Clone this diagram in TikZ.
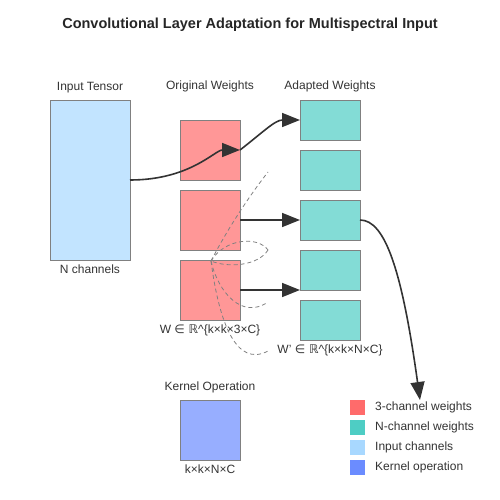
\documentclass[tikz,border=0pt]{standalone}
\usepackage{fontspec}
\setmainfont{Liberation Sans}
\newfontfamily\dvs{DejaVu Sans}
\usetikzlibrary{positioning, arrows.meta}
\definecolor{wthree}{HTML}{FF6B6B}
\definecolor{wn}{HTML}{4ECDC4}
\definecolor{inch}{HTML}{A8D8FF}
\definecolor{kop}{HTML}{6B8CFF}
\tikzstyle{box} = [rectangle, draw=gray, line width=0.8pt, inner sep=0pt, outer sep=0pt, fill opacity=0.7, draw opacity=1]
\tikzstyle{orig} = [box, fill=wthree, minimum width=60pt, minimum height=60pt]
\tikzstyle{adapt} = [box, fill=wn, minimum width=60pt, minimum height=40pt]
\tikzstyle{leg} = [rectangle, inner sep=0pt, outer sep=0pt, minimum size=15pt]
\tikzstyle{lbl} = [font=\fontsize{12}{14}\selectfont, text=black!80, inner sep=2pt]
\tikzstyle{arr} = [-{Triangle[length=18pt, width=14pt]}, line width=1.6pt, draw=black!80]
\tikzstyle{rep} = [draw=gray, line width=0.8pt, dash pattern=on 4pt off 3pt]

\begin{document}
\begin{tikzpicture}[x=1pt, y=-1pt]
    \useasboundingbox (0,0) rectangle (500,500);

    \node[font=\bfseries\fontsize{14.5}{17}\selectfont, text=black!85] (title) at (250,25)
        {Convolutional Layer Adaptation for Multispectral Input};

    % input tensor
    \node[box, fill=inch, minimum width=80pt, minimum height=160pt] (in) at (90,180) {};
    \node[lbl, above=5pt of in] (inlbl) {Input Tensor};
    \node[lbl, below=3pt of in] (inch) {N channels};

    % original weights
    \node[orig] (o1) at (210,150) {};
    \node[orig, below=10pt of o1] (o2) {};
    \node[orig, below=10pt of o2] (o3) {};
    \node[lbl] (olbl) at (210,86) {Original Weights};
    \node[lbl, below=3pt of o3] (oform) {W {\dvs∈ ℝ}\^{}\{k×k×3×C\}};

    % adapted weights
    \node[adapt] (a1) at (330,120) {};
    \node[adapt, below=10pt of a1] (a2) {};
    \node[adapt, below=10pt of a2] (a3) {};
    \node[adapt, below=10pt of a3] (a4) {};
    \node[adapt, below=10pt of a4] (a5) {};
    \node[lbl] (albl) at (330,86) {Adapted Weights};
    \node[lbl, below=3pt of a5] (aform) {W' {\dvs∈ ℝ}\^{}\{k×k×N×C\}};

    % kernel operation
    \node[box, fill=kop, minimum width=60pt, minimum height=60pt] (k) at (210,430) {};
    \node[lbl, above=5pt of k] (klbl) {Kernel Operation};
    \node[lbl, below=3pt of k] (kdim) {k×k×N×C};

    % replication paths
    \coordinate (hub) at (211,261);
    \coordinate (d1) at (268,172);
    \coordinate (d2) at (268,250);
    \coordinate (d3) at (268,302);
    \coordinate (d4) at (268,351);
    \draw[rep] (hub) .. controls (228,228) and (250,195) .. (d1);
    \draw[rep] (hub) .. controls (225,238) and (258,236) .. (d2);
    \draw[rep] (d2) .. controls (258,266) and (228,268) .. (hub);
    \draw[rep] (hub) .. controls (218,292) and (242,320) .. (d3);
    \draw[rep] (hub) .. controls (219,322) and (236,368) .. (d4);

    % arrows
    \draw[arr] (in.east) .. controls (190,180) and (215,150) .. (o1.east);
    \draw[arr] (o1.east) .. controls (262,133) and (275,120) .. (a1.west);
    \draw[arr] (o2.east) -- (a3.west);
    \draw[arr] (o3.east) -- (o3.east -| a4.west);
    \coordinate (kend) at (420,400);
    \draw[arr] (a3.east) .. controls (385,220) and (402,270) .. (kend);

    % legend
    \node[leg, fill=wthree] (l1) at (357.5,407.5) {};
    \node[leg, fill=wn, below=5pt of l1] (l2) {};
    \node[leg, fill=inch, below=5pt of l2] (l3) {};
    \node[leg, fill=kop, below=5pt of l3] (l4) {};
    \node[lbl, right=8pt of l1] (t1) {3-channel weights};
    \node[lbl, right=8pt of l2] (t2) {N-channel weights};
    \node[lbl, right=8pt of l3] (t3) {Input channels};
    \node[lbl, right=8pt of l4] (t4) {Kernel operation};

\end{tikzpicture}
\end{document}
